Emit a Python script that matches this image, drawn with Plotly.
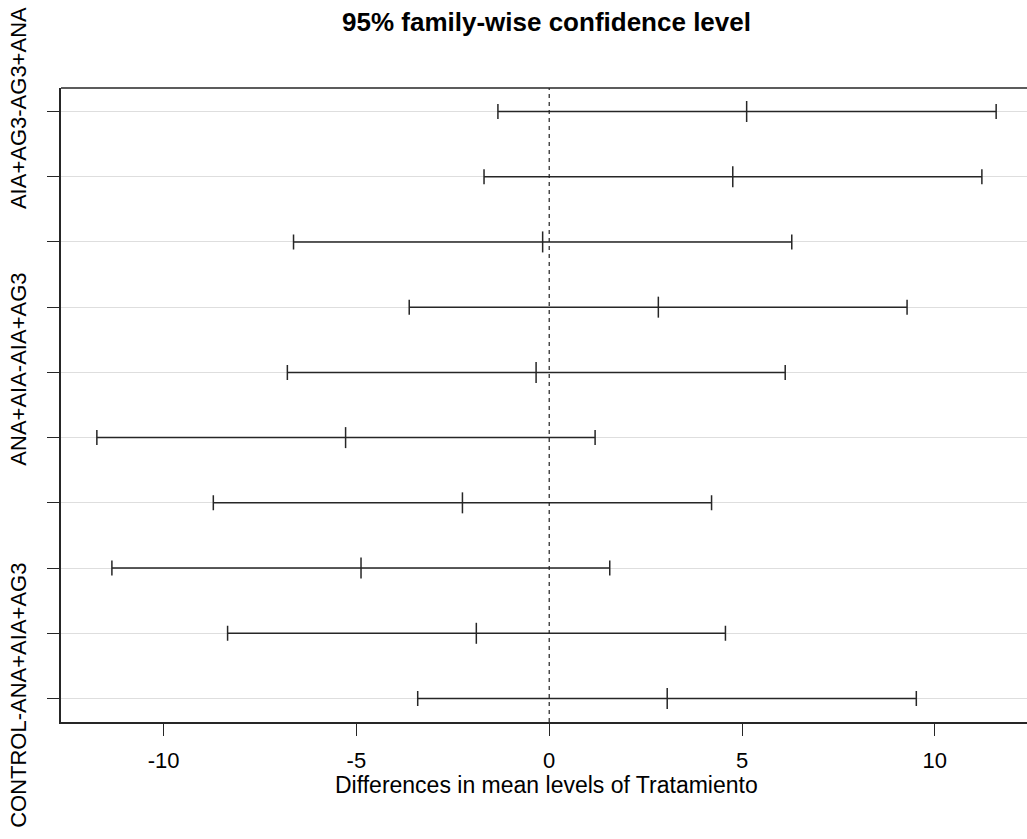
import plotly.graph_objects as go

comparisons = [
    "AIA+AG3-AG3+ANA",
    "ANA+AIA-AG3+ANA",
    "ANA+AIA+AG3-AG3+ANA",
    "CONTROL-AG3+ANA",
    "ANA+AIA-AIA+AG3",
    "ANA+AIA+AG3-AIA+AG3",
    "CONTROL-AIA+AG3",
    "ANA+AIA+AG3-ANA+AIA",
    "CONTROL-ANA+AIA",
    "CONTROL-ANA+AIA+AG3",
]
diff = [5.12, 4.76, -0.17, 2.83, -0.34, -5.28, -2.25, -4.88, -1.89, 3.06]
lwr = [-1.33, -1.69, -6.63, -3.63, -6.79, -11.73, -8.71, -11.34, -8.34, -3.41]
upr = [11.59, 11.22, 6.29, 9.28, 6.12, 1.19, 4.21, 1.57, 4.57, 9.52]
shown_labels = {"AIA+AG3-AG3+ANA", "ANA+AIA-AIA+AG3", "CONTROL-ANA+AIA+AG3"}

n = len(comparisons)
ypos = list(range(n, 0, -1))

FONT = "Liberation Sans, Arial, sans-serif"
LC = "#262626"

fig = go.Figure()
fig.add_trace(go.Scatter(
    x=diff, y=ypos, mode="markers",
    marker=dict(symbol="line-ns-open", size=15, line=dict(width=1.5, color=LC), color=LC),
    error_x=dict(type="data", symmetric=False,
                 array=[u - d for u, d in zip(upr, diff)],
                 arrayminus=[d - l for d, l in zip(diff, lwr)],
                 color=LC, thickness=1.5, width=7.5),
    showlegend=False, hoverinfo="skip",
))

fig.add_shape(type="line", xref="x", yref="paper", x0=0, x1=0, y0=0, y1=1,
              line=dict(color="#222", width=1.2, dash="4px,4px"), layer="above")
fig.add_shape(type="line", xref="paper", yref="paper", x0=0, x1=1, y0=1, y1=1,
              line=dict(color=LC, width=1.5))

fig.update_layout(
    width=1027, height=839,
    margin=dict(l=61, r=0, t=88, b=117),
    paper_bgcolor="white", plot_bgcolor="white",
    font=dict(family=FONT, color="black", size=22),
    annotations=[
        dict(text="<b>95% family-wise confidence level</b>", xref="paper", yref="paper",
             x=0.503, y=1, yshift=66, xanchor="center", yanchor="middle", showarrow=False,
             font=dict(size=26, family=FONT)),
        dict(text="Differences in mean levels of Tratamiento", xref="paper", yref="paper",
             x=0.503, y=0, yshift=-63, xanchor="center", yanchor="middle", showarrow=False,
             font=dict(size=23, family=FONT)),
    ],
)
fig.update_xaxes(
    range=[-12.66, 12.39], tickvals=[-10, -5, 0, 5, 10], ticktext=["-10", "-5", "0", "5", "10"],
    ticks="outside", ticklen=12, tickwidth=1.2, tickcolor=LC,
    showline=True, linecolor=LC, linewidth=1.5, showgrid=False, zeroline=False,
    ticklabelstandoff=6, tickfont=dict(size=22),
)
fig.update_yaxes(
    range=[0.64, n + 0.36], tickvals=ypos,
    ticktext=[c if c in shown_labels else "" for c in comparisons],
    tickangle=-90, ticks="outside", ticklen=12, tickwidth=1.2, tickcolor=LC,
    showline=True, linecolor=LC, linewidth=1.5,
    showgrid=True, gridcolor="#dedede", gridwidth=1.3, zeroline=False,
    ticklabelstandoff=12, tickfont=dict(size=22),
)

fig.write_html("out.html")
